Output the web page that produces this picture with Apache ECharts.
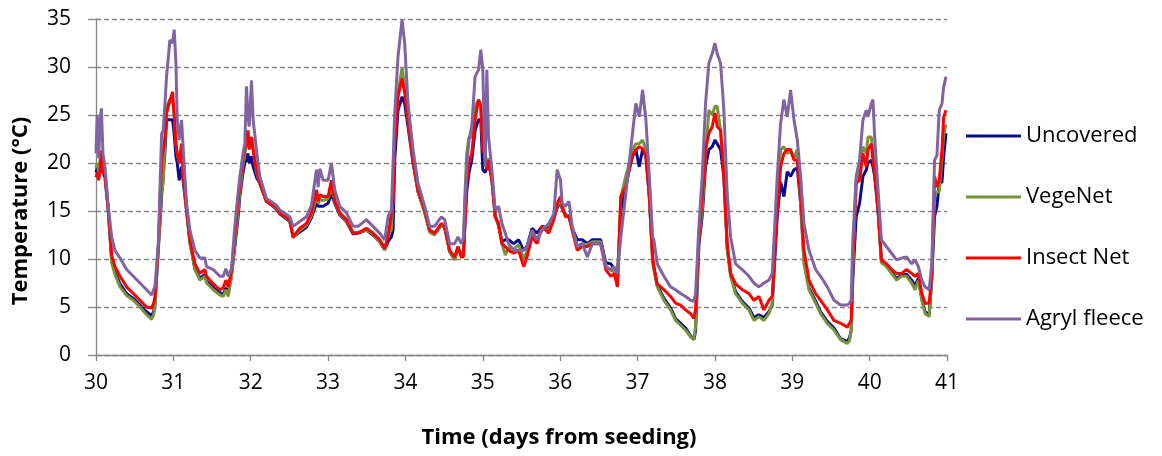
<!DOCTYPE html>
<html>
<head>
<meta charset="utf-8">
<script src="https://cdn.jsdelivr.net/npm/echarts@6/dist/echarts.min.js"></script>
<style>
html,body{margin:0;padding:0;background:#fff;}
#chart{width:1162px;height:456px;}
</style>
</head>
<body>
<div id="chart"></div>
<script>
// Time (days from seeding)
const times = [
30.00,30.015,30.035,30.055,30.07,30.09,30.116,30.159,30.202,30.245,30.31,30.396,30.482,30.568,30.654,30.719,30.745,30.762,30.805,30.848,30.869,30.89,30.912,30.955,30.99,
31.011,31.033,31.05,31.076,31.106,31.128,31.171,31.214,31.278,31.343,31.407,31.429,31.515,31.601,31.645,31.678,31.709,31.752,31.795,31.838,31.859,31.9,31.924,31.945,31.963,31.98,
32.01,32.031,32.074,32.117,32.204,32.333,32.376,32.505,32.548,32.634,32.72,32.785,32.85,32.872,32.893,32.936,
33.0,33.043,33.086,33.151,33.237,33.323,33.388,33.495,33.581,33.667,33.732,33.775,33.818,33.84,33.861,33.904,33.956,33.99,
34.033,34.098,34.162,34.248,34.313,34.377,34.463,34.506,34.571,34.636,34.679,34.722,34.749,34.765,34.792,34.821,34.857,34.9,34.944,34.974,
35.0,35.03,35.052,35.074,35.117,35.16,35.203,35.247,35.29,35.333,35.398,35.463,35.528,35.571,35.636,35.701,35.766,35.853,35.918,35.961,
36.004,36.026,36.069,36.113,36.156,36.221,36.286,36.351,36.416,36.524,36.589,36.654,36.697,36.74,36.784,36.848,36.892,36.935,36.978,
37.022,37.065,37.108,37.152,37.195,37.211,37.254,37.341,37.427,37.491,37.556,37.621,37.685,37.728,37.75,37.793,37.836,37.879,37.922,37.966,
38.0,38.03,38.073,38.116,38.159,38.203,38.267,38.353,38.44,38.504,38.569,38.634,38.698,38.741,38.806,38.849,38.892,38.935,38.978,
39.022,39.065,39.108,39.151,39.216,39.302,39.366,39.453,39.539,39.625,39.711,39.74,39.761,39.783,39.826,39.87,39.913,39.957,39.978,
40.022,40.043,40.065,40.109,40.152,40.217,40.283,40.348,40.413,40.478,40.543,40.587,40.63,40.674,40.717,40.77,40.804,40.839,40.87,40.9,40.935,40.957,40.987
];
const uncovered = [
19.0,19.5,18.5,20.0,20.5,19.0,18.5,15.0,10.0,8.7,7.4,6.4,5.9,5.2,4.5,4.1,4.5,5.5,11.0,16.5,16.3,21.0,24.5,24.5,24.5,
23.0,20.7,20.0,18.2,19.6,18.0,15.0,11.8,9.0,8.0,8.4,7.7,7.0,6.5,6.3,7.0,6.3,8.4,11.3,14.5,16.5,19.0,20.0,20.3,21.0,20.0,
20.7,19.6,18.5,17.9,16.0,15.2,14.7,13.9,12.3,12.8,13.3,14.3,15.8,15.5,15.5,15.5,
15.8,16.8,15.8,14.6,13.9,12.6,12.7,13.0,12.5,11.8,11.0,11.8,12.3,13.0,20.3,25.5,26.9,26.2,
23.8,20.0,17.0,14.9,12.9,12.6,13.5,13.3,10.8,10.0,11.2,10.4,10.4,13.0,17.0,19.0,20.3,23.4,24.5,24.5,
19.3,19.0,19.5,20.0,18.3,14.5,13.5,11.8,12.0,12.0,11.6,12.0,10.9,11.3,13.2,12.7,13.4,13.2,14.3,15.3,
16.0,15.2,14.6,14.5,13.2,12.0,12.0,11.6,12.0,12.0,9.6,9.5,9.0,8.0,15.0,17.5,19.3,20.7,21.4,
19.6,21.4,20.7,16.5,10.0,9.1,7.3,5.9,4.9,3.8,3.3,2.8,2.0,1.6,2.5,11.5,14.5,19.6,21.4,21.7,
22.4,22.0,21.4,18.5,11.2,8.4,6.6,5.6,4.9,3.9,4.2,3.9,4.5,5.2,14.5,18.0,16.5,19.1,18.6,
19.3,19.5,15.8,10.0,7.0,5.6,4.5,3.5,2.8,1.7,1.4,1.8,2.5,8.0,14.4,15.8,18.6,19.3,20.0,
20.3,19.6,18.6,15.0,9.8,9.3,8.6,8.0,8.3,8.4,7.8,7.2,8.0,5.9,4.5,4.2,8.0,14.4,15.5,17.9,18.0,20.7,23.1
];
const vegeNet = [
19.5,20.0,19.0,20.5,21.0,19.5,19.0,15.0,9.6,8.4,7.1,6.2,5.7,5.0,4.2,3.7,4.2,5.0,11.0,17.0,18.0,22.0,25.9,26.6,26.4,
25.0,22.0,21.0,20.0,21.5,18.5,15.0,11.6,8.9,7.8,8.2,7.5,6.8,6.25,6.1,6.8,6.1,8.2,11.6,15.1,17.0,19.8,21.0,22.0,23.4,22.0,
22.7,21.4,19.0,17.9,16.0,15.3,14.8,14.0,12.2,13.0,13.5,14.5,16.5,15.8,16.2,16.1,
16.3,17.5,16.0,14.7,14.0,12.7,12.8,13.0,12.6,11.8,10.9,12.6,13.0,16.5,22.7,27.3,29.9,28.0,
24.5,20.2,17.0,14.9,12.8,12.5,13.5,13.3,10.7,9.9,11.0,10.4,10.5,16.0,21.0,22.7,22.7,25.9,26.6,26.0,
22.0,21.0,20.0,20.5,18.5,14.5,13.5,11.6,10.4,11.2,11.0,11.5,10.0,10.8,12.8,12.0,13.3,13.0,14.3,15.5,
16.2,15.3,14.5,14.5,13.0,11.3,11.6,11.5,11.8,11.8,9.3,8.8,8.8,7.6,16.5,18.6,20.0,21.4,22.0,
22.0,22.4,21.4,16.5,9.6,8.9,7.1,5.7,4.7,3.6,3.1,2.6,1.9,1.6,3.0,12.0,15.1,20.7,25.5,25.0,
25.9,25.9,23.4,19.2,10.9,8.2,6.4,5.4,4.7,3.6,4.0,3.6,4.3,5.4,16.5,21.4,21.7,21.0,21.2,
20.5,21.4,15.6,9.5,6.8,5.4,4.3,3.3,2.6,1.6,1.2,1.5,2.5,9.0,17.9,19.0,21.7,21.0,22.7,
22.7,21.0,19.5,15.0,9.6,9.2,8.5,7.8,8.2,8.2,7.5,6.8,7.8,5.7,4.3,4.0,8.2,16.5,17.0,17.0,20.5,23.0,24.0
];
const insectNet = [
18.5,19.0,18.2,19.5,21.3,19.0,18.8,15.2,10.4,9.2,8.2,7.1,6.4,5.7,5.0,4.9,5.4,6.0,11.2,20.3,20.3,22.5,25.2,26.5,27.4,
25.0,22.0,21.0,20.0,22.0,18.6,15.1,12.0,9.5,8.5,8.9,8.2,7.4,6.8,7.0,7.8,7.1,8.8,12.5,16.0,18.0,20.5,21.5,22.0,23.4,21.4,
22.7,21.4,19.3,17.9,16.0,15.4,14.8,14.1,12.3,13.2,13.7,14.8,17.2,16.0,16.7,16.5,
16.5,18.2,16.1,14.8,14.1,12.7,12.7,13.2,12.7,12.0,11.1,12.3,14.8,16.0,22.0,26.9,28.8,27.3,
24.5,20.3,17.2,15.1,13.0,12.7,13.7,13.4,10.9,10.2,11.3,10.2,10.2,13.0,17.9,20.0,21.0,24.5,26.6,25.9,
21.4,20.7,19.3,20.3,18.2,14.4,13.7,11.6,11.3,10.9,10.6,10.9,9.2,10.2,12.3,11.6,13.4,12.7,14.1,15.8,
16.5,15.5,14.4,14.4,13.0,10.9,11.3,11.3,11.6,11.6,8.9,8.2,8.5,7.1,16.5,17.5,19.3,20.7,21.4,
21.7,21.5,20.7,16.5,10.2,9.2,7.4,6.8,6.1,5.4,5.2,4.7,4.3,3.8,4.7,12.3,16.5,21.4,23.1,23.8,
25.2,23.8,23.4,18.6,11.6,8.5,7.4,6.8,6.4,5.7,6.1,4.7,5.7,6.1,15.1,19.6,21.0,21.4,21.4,
20.3,20.3,16.5,10.9,7.8,6.4,5.7,4.7,3.6,3.3,2.9,3.3,3.6,9.9,17.9,18.2,21.0,19.6,21.4,
22.0,20.3,18.9,15.1,9.9,9.5,8.9,8.5,8.5,8.9,8.5,8.2,8.5,6.4,5.4,5.4,8.5,18.6,17.5,18.2,21.4,24.8,25.5
];
const agrylFleece = [
21.0,25.0,20.5,24.5,25.7,21.0,19.6,15.5,12.3,10.9,10.1,8.9,8.2,7.5,6.8,6.25,6.8,7.1,11.6,23.0,23.4,26.0,29.0,32.8,32.5,
33.9,30.4,24.5,22.4,24.5,21.4,15.8,13.0,10.9,10.1,10.1,9.2,8.9,8.2,8.2,9.0,8.2,9.0,13.5,17.0,18.5,21.0,22.0,28.0,25.0,23.8,
28.6,24.5,21.4,18.6,16.3,15.6,15.1,14.4,13.4,13.9,14.4,15.6,19.3,17.5,19.4,18.2,
18.2,20.0,17.2,15.5,14.8,13.4,13.4,14.1,13.4,12.7,12.0,14.4,15.1,20.0,25.2,31.1,34.9,32.5,
26.2,21.4,17.9,15.5,13.4,13.4,14.4,14.1,11.6,11.6,12.3,11.6,12.2,15.1,19.6,22.4,23.8,29.0,29.7,31.8,
29.7,19.6,29.7,22.7,19.3,15.1,15.5,13.7,12.7,11.6,10.9,10.9,10.9,11.3,13.0,12.0,13.0,13.7,14.7,19.3,
18.2,15.8,15.5,16.0,13.4,11.3,11.6,10.2,11.6,11.6,9.2,8.9,9.2,8.5,12.3,16.8,20.0,23.1,26.2,
24.8,27.6,24.5,18.6,12.3,12.0,9.5,8.2,7.1,6.8,6.4,6.1,5.7,5.6,6.4,13.4,18.6,26.2,30.4,31.4,
32.5,31.4,30.4,25.5,16.8,12.3,9.5,8.9,8.2,7.5,7.1,7.5,7.8,8.5,18.6,24.1,26.6,24.8,27.6,
24.5,22.4,18.6,13.7,10.9,8.9,8.2,7.1,5.7,5.2,5.2,5.4,5.7,12.0,18.6,20.3,24.5,25.5,24.8,
26.2,26.6,22.7,17.2,12.0,11.3,10.6,9.9,10.1,10.2,9.5,9.9,9.2,7.8,7.1,6.8,9.5,20.3,20.8,25.5,26.2,27.9,29.0
];
const seriesNames = ['Uncovered', 'VegeNet', 'Insect Net', 'Agryl fleece'];
const seriesColors = ['#0A0A8E', '#77933C', '#FF0000', '#8064A2'];
const yTicks = [0, 5, 10, 15, 20, 25, 30, 35];
const xTicks = [30, 31, 32, 33, 34, 35, 36, 37, 38, 39, 40, 41];
const yTitle = 'Temperature (°C)';
const xTitle = 'Time (days from seeding)';

const seriesValues = [uncovered, vegeNet, insectNet, agrylFleece];
const FONT = 'Open Sans';
const chart = echarts.init(document.getElementById('chart'), null, {renderer: 'canvas'});
const option = {
  animation: false,
  backgroundColor: '#ffffff',
  grid: {left: 96, right: 215, top: 19, bottom: 101, containLabel: false},
  legend: {
    orient: 'vertical', left: 961, top: 118,
    itemWidth: 55, itemHeight: 3, itemGap: 35, icon: 'rect',
    textStyle: {fontFamily: FONT, fontSize: 22, color: '#000', lineHeight: 26},
    data: seriesNames
  },
  xAxis: {
    type: 'value', min: xTicks[0], max: xTicks[xTicks.length - 1], interval: 1,
    axisLine: {lineStyle: {color: '#868686', width: 1.3}},
    axisTick: {show: true, length: 6, lineStyle: {color: '#868686', width: 1.3}},
    axisLabel: {fontFamily: FONT, fontSize: 21, color: '#000', margin: 18},
    splitLine: {show: false}
  },
  yAxis: {
    type: 'value', min: yTicks[0], max: yTicks[yTicks.length - 1], interval: 5,
    axisLine: {show: true, lineStyle: {color: '#868686', width: 1.3}},
    axisTick: {show: true, length: 8, lineStyle: {color: '#868686', width: 1.3}},
    axisLabel: {fontFamily: FONT, fontSize: 21, color: '#000', margin: 25},
    splitLine: {show: true, lineStyle: {color: '#868686', width: 1.3, type: [5, 3]}}
  },
  graphic: [
    {type: 'text', x: 21, y: 211, rotation: Math.PI / 2,
     style: {text: yTitle, fontFamily: FONT, fontWeight: 'bold', fontSize: 22, fill: '#000',
             textAlign: 'center', textVerticalAlign: 'middle'}},
    {type: 'text', x: 559, y: 438,
     style: {text: xTitle, fontFamily: FONT, fontWeight: 'bold', fontSize: 22, fill: '#000',
             textAlign: 'center', textVerticalAlign: 'middle'}}
  ],
  series: seriesNames.map((name, i) => ({
    name: name, type: 'line', showSymbol: false, symbol: 'none',
    lineStyle: {width: 3, color: seriesColors[i]}, itemStyle: {color: seriesColors[i]},
    data: times.map((t, k) => [t, seriesValues[i][k]])
  }))
};
chart.setOption(option);
</script>
</body>
</html>
